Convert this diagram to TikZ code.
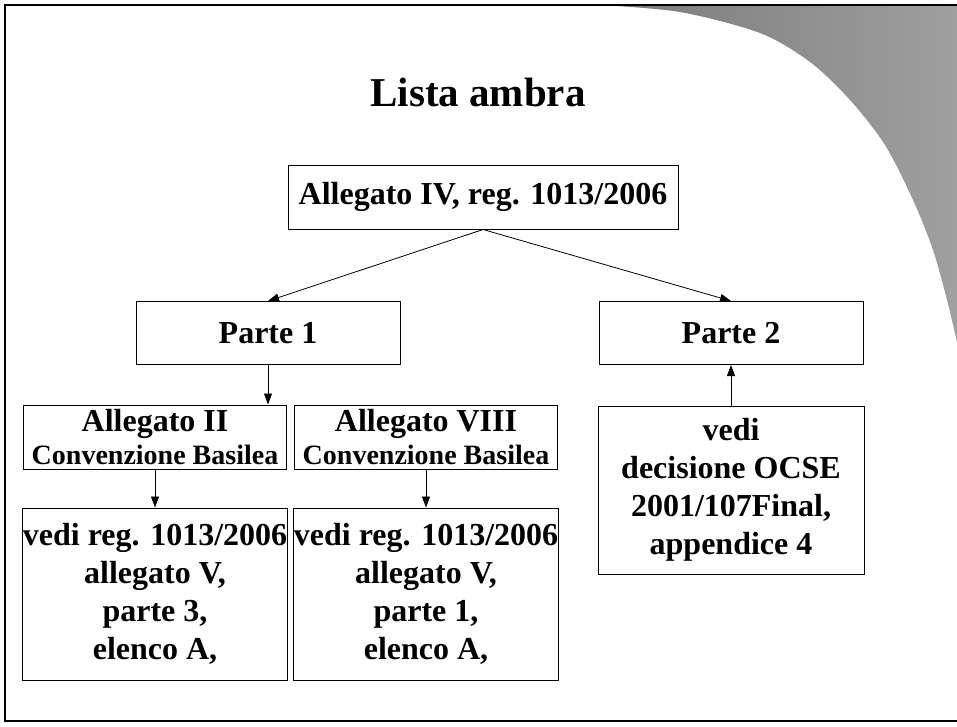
\documentclass[tikz,border=0pt]{standalone}
\usepackage{fontspec}
\setmainfont{Liberation Serif}
\usetikzlibrary{positioning,arrows.meta}

\tikzset{
  box/.style={draw, line width=1pt, minimum width=264pt, minimum height=63pt,
    inner sep=0pt, align=center, font=\bfseries\fontsize{32}{38}\selectfont},
  annexbox/.style={box, minimum width=263pt, minimum height=64pt},
  tallbox/.style={box, minimum width=265pt, minimum height=172pt},
}
\newcommand{\convfont}{\fontsize{28}{30}\selectfont}

\begin{document}
\begin{tikzpicture}[x=1pt,y=-1pt,>={Triangle[length=11pt,width=8pt]},on grid]
  \useasboundingbox (0,0) rectangle (957,726);
  % shaded corner
  \shade[left color=gray!105,right color=gray!75]
    plot[smooth] coordinates {(600,5) (680,12) (760,33) (810,62) (850,100)
      (885,145) (913,200) (933,250) (947,300) (957,342)} -- (957,5) -- cycle;
  % frame
  \draw[line width=2.5pt] (957,5) -- (5,5) -- (5,721) -- (957,721);

  \node[font=\bfseries\fontsize{41}{48}\selectfont] (title) at (478,92) {Lista ambra};

  \node[box, minimum width=390pt, minimum height=64pt] (reg) at (483,197) {Allegato IV, reg. 1013/2006};
  \node[box] (parte1) [below left=136pt and 215pt of reg] {Parte 1};
  \node[box] (parte2) [below right=136pt and 248pt of reg] {Parte 2};
  \node[annexbox] (all2) [below left=104pt and 113pt of parte1] {Allegato II\\[-5pt]{\convfont Convenzione Basilea}};
  \node[annexbox] (all8) [right=271pt of all2] {Allegato VIII\\[-5pt]{\convfont Convenzione Basilea}};
  \node[tallbox] (vedi3) [below=157pt of all2] {vedi reg. 1013/2006\\allegato V,\\parte 3,\\elenco A,};
  \node[tallbox] (vedi1) [below=157pt of all8] {vedi reg. 1013/2006\\allegato V,\\parte 1,\\elenco A,};
  \node[tallbox, minimum width=266pt, minimum height=168pt] (ocse) [below=157pt of parte2] {vedi\\decisione OCSE\\2001/107Final,\\appendice 4};

  \path[->, line width=0.8pt]
    (reg.south) edge (parte1.north)
                edge (parte2.north)
    (parte1.south) edge (parte1.south |- all2.north)
    (all2) edge (vedi3)
    (all8) edge (vedi1)
    (ocse) edge (parte2);
\end{tikzpicture}
\end{document}
